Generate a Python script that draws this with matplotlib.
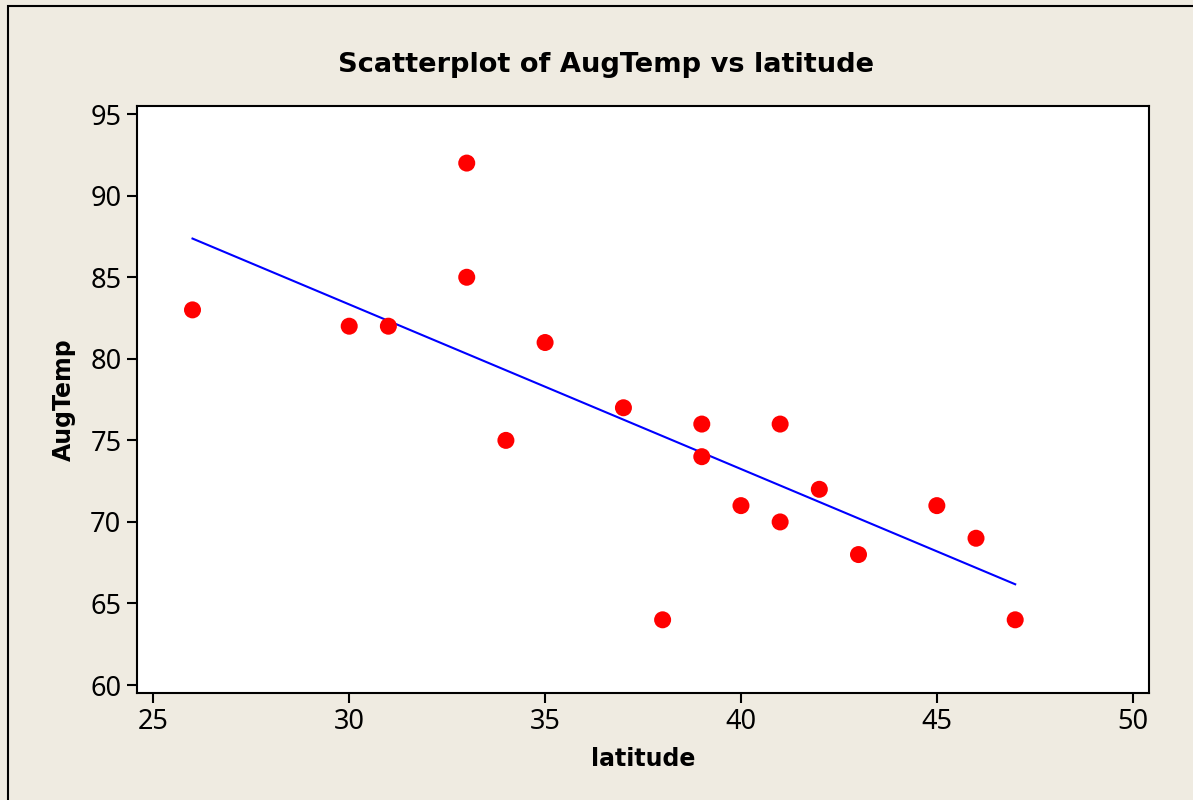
import matplotlib
matplotlib.use("Agg")
import matplotlib.pyplot as plt
from matplotlib.patches import Rectangle
import numpy as np

# latitude / August temperature pairs
latitude = [26, 30, 31, 33, 33, 34, 35, 37, 38, 39, 39, 40, 41, 41, 42, 43, 45, 46, 47]
aug_temp = [83, 82, 82, 92, 85, 75, 81, 77, 64, 76, 74, 71, 76, 70, 72, 68, 71, 69, 64]

x_ticks = [25, 30, 35, 40, 45, 50]
y_ticks = [60, 65, 70, 75, 80, 85, 90, 95]

bg = "#efebe1"
tick_font = ["Noto Sans", "DejaVu Sans"]

fig = plt.figure(figsize=(11.93, 8.0), dpi=100, facecolor=bg)
# outer frame of the graph window
fig.patches.append(Rectangle((8 / 1193, -0.05), 1.1, 1 - 6 / 800 + 0.05,
                             transform=fig.transFigure, fill=False,
                             edgecolor="black", linewidth=1.5))

ax = fig.add_axes([0.1146, 0.1341, 0.8488, 0.7328])
ax.set_facecolor("white")

x = np.array(latitude)
y = np.array(aug_temp)
ax.scatter(x, y, s=150, color="#ff0000", edgecolors="none", zorder=3)

# least squares fit over the data range
slope, intercept = np.polyfit(x, y, 1)
xs = np.array([x.min(), x.max()])
ax.plot(xs, slope * xs + intercept, color="#0000ff", linewidth=1.5, zorder=2)

ax.set_xlim(24.576, 50.424)
ax.set_ylim(59.53, 95.47)
ax.set_xticks(x_ticks)
ax.set_yticks(y_ticks)
ax.set_xticklabels([str(t) for t in x_ticks], family=tick_font, fontsize=19.5)
ax.set_yticklabels([str(t) for t in y_ticks], family=tick_font, fontsize=19.5)
ax.tick_params(direction="out", length=7, width=1.5, pad=4, colors="black")

for sp in ax.spines.values():
    sp.set_linewidth(1.5)

fig.text(606 / 1193, 1 - 65 / 800, "Scatterplot of AugTemp vs latitude",
         fontsize=19.6, fontweight="bold", family="DejaVu Sans",
         ha="center", va="center")
ax.set_xlabel("latitude", fontsize=17, fontweight="bold", family="DejaVu Sans", labelpad=8)
ax.set_ylabel("AugTemp", fontsize=17, fontweight="bold", family="DejaVu Sans", labelpad=10)

fig.savefig("out.png", dpi=100, facecolor=bg)
